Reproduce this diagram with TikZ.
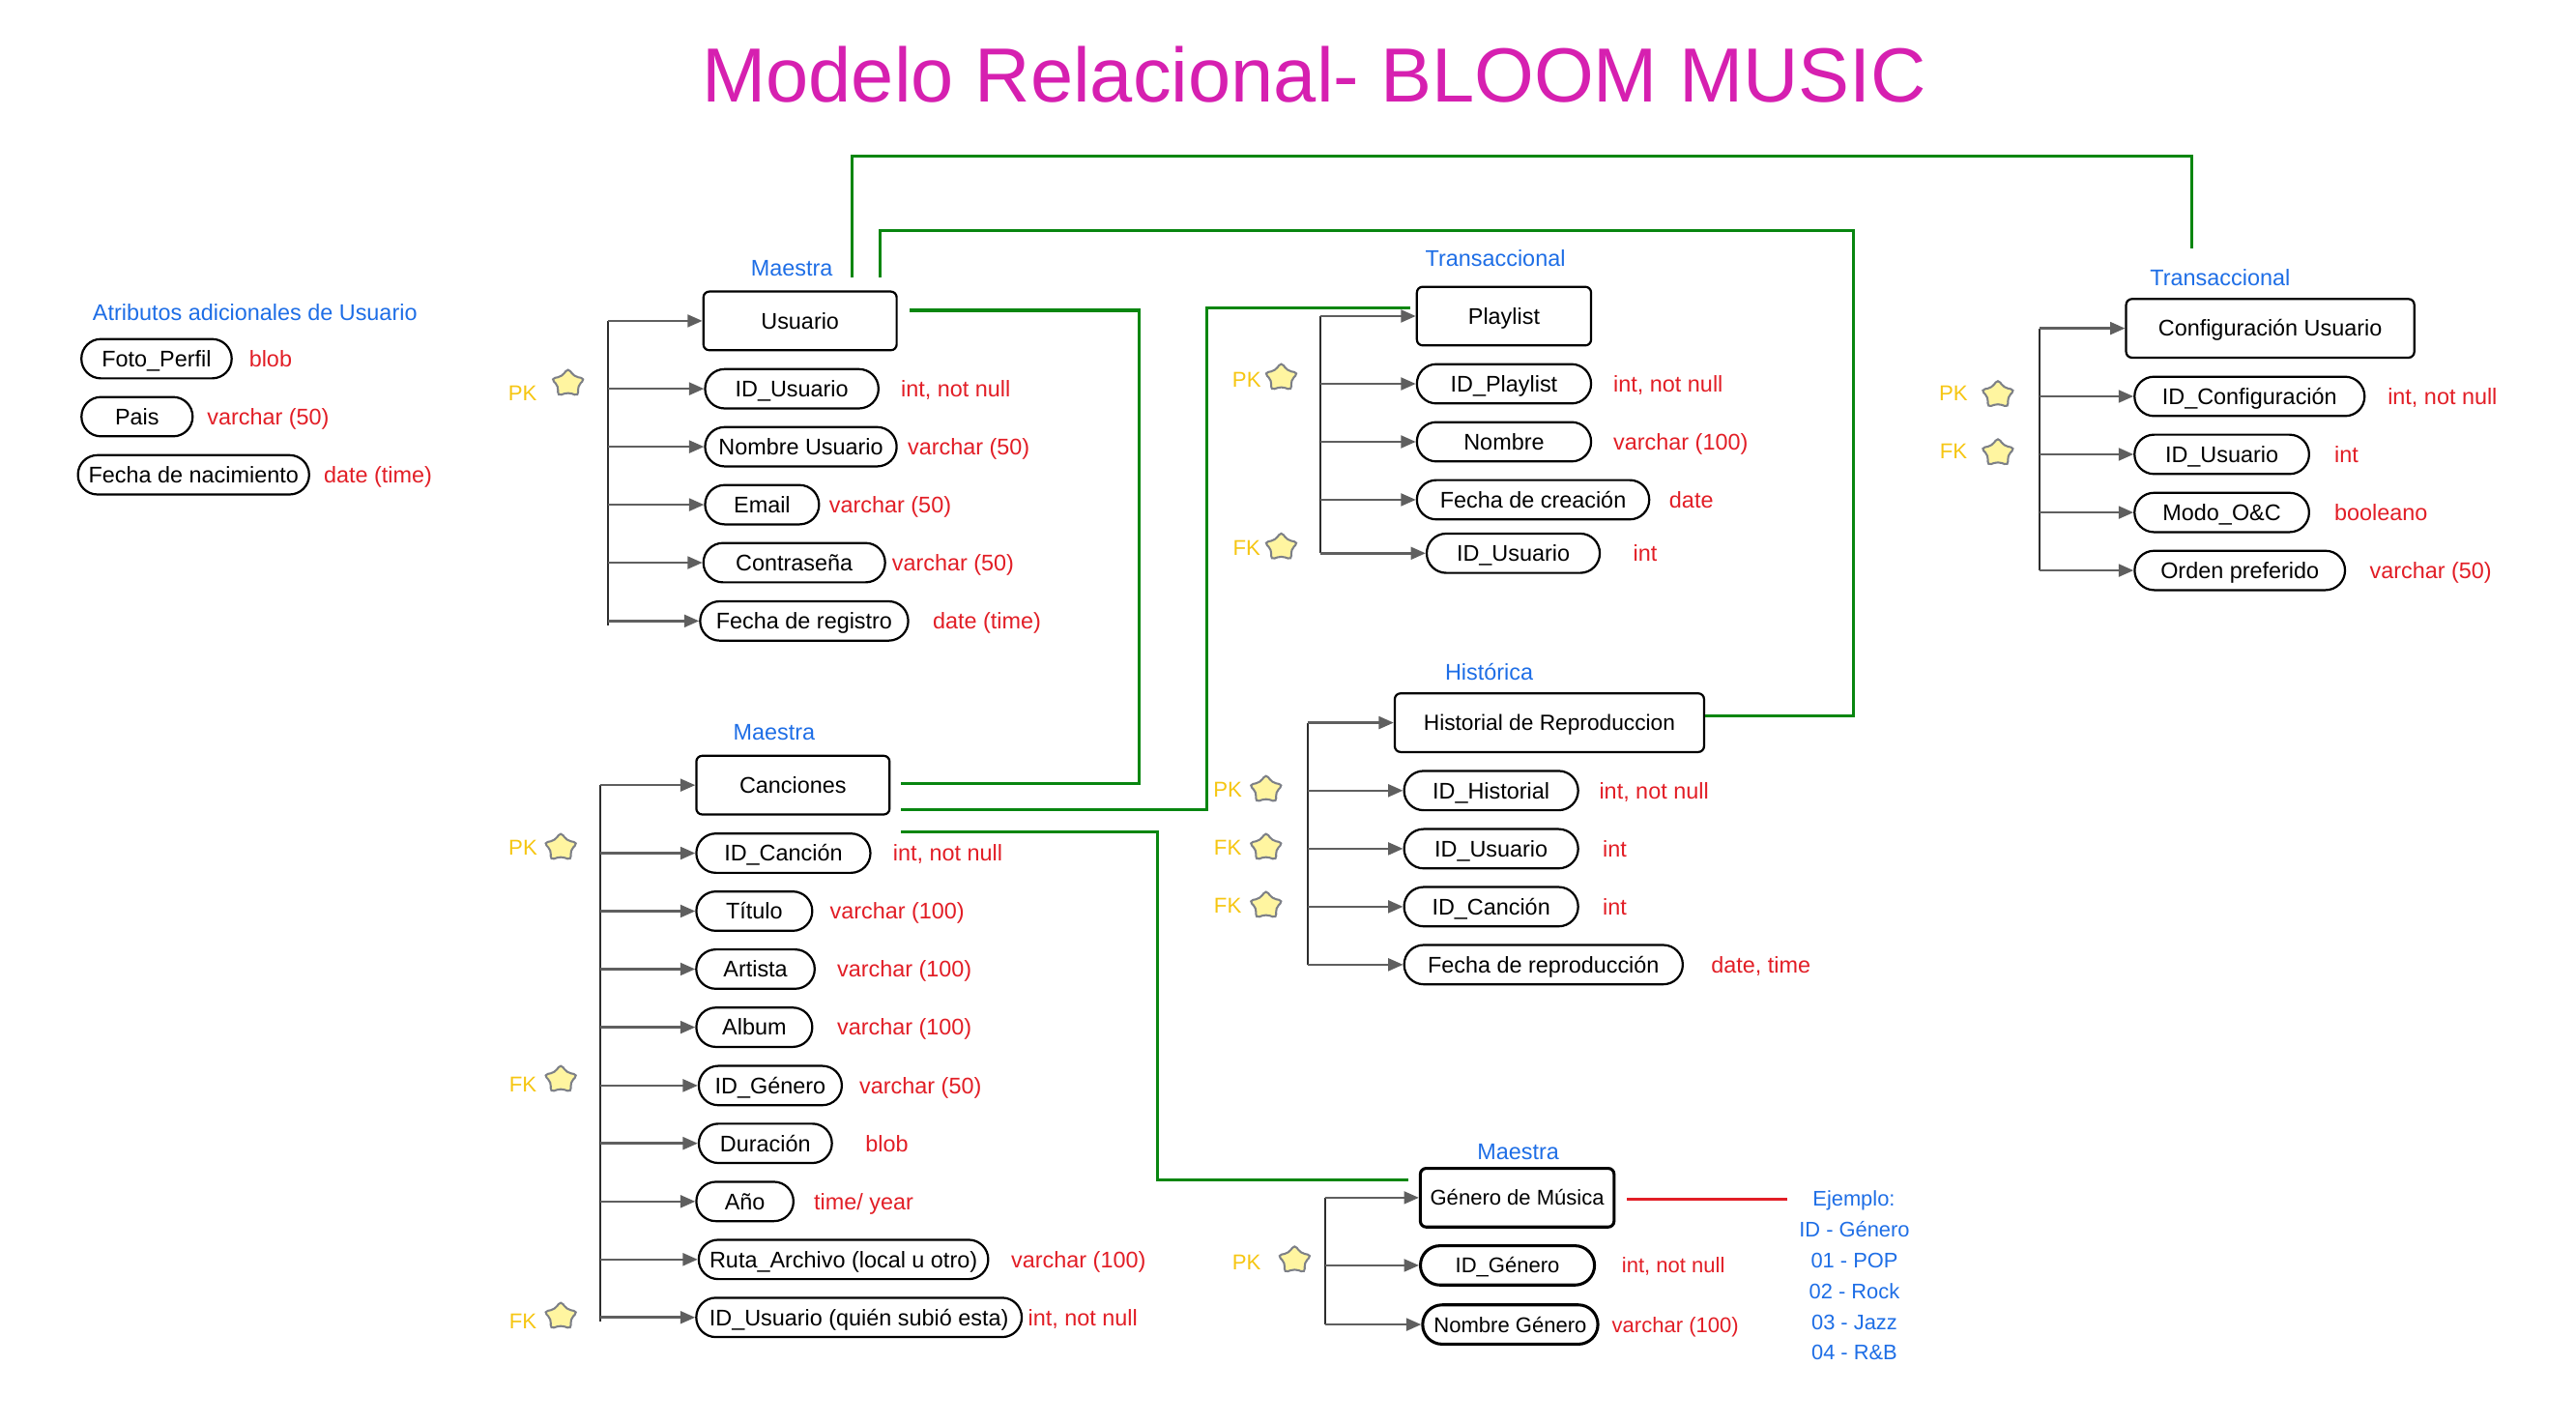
\documentclass[tikz,border=0pt]{standalone}
\usepackage{fontspec}
\setmainfont{Liberation Sans}
\usetikzlibrary{shapes.geometric,arrows.meta,calc}
\definecolor{ttlmag}{RGB}{214,32,176}
\definecolor{lblue}{RGB}{30,110,230}
\definecolor{tred}{RGB}{226,30,38}
\definecolor{kyel}{RGB}{246,198,18}
\definecolor{relgreen}{RGB}{8,134,16}
\definecolor{arrgray}{RGB}{95,95,95}
\definecolor{trunkgray}{RGB}{45,45,45}
\definecolor{starfill}{RGB}{255,245,160}
\definecolor{staredge}{RGB}{125,128,135}
\begin{document}
\begin{tikzpicture}[x=1pt,y=-1pt,
 every node/.style={font=\fontsize{13.7}{16}\selectfont, text height=11.3pt, text depth=1.5pt},
 ttl/.style={text=ttlmag, font=\fontsize{46.5}{56}\selectfont, text height=33.3pt, text depth=0pt, inner sep=0pt},
 tbl/.style={draw, line width=1.3pt, rounded corners=3.5pt, minimum height=35.5pt, inner sep=0pt},
 attr/.style={draw, line width=1.3pt, rounded corners=11.8pt, minimum height=23.8pt, inner sep=0pt},
 thick attr/.style={attr, line width=1.8pt},
 gfont/.style={font=\fontsize{12.9}{15}\selectfont, text height=10.7pt, text depth=1.4pt},
 typ/.style={text=tred, anchor=west, inner sep=0pt},
 cat/.style={text=lblue, inner sep=0pt},
 key/.style={text=kyel, inner sep=0pt, font=\fontsize{13}{15}\selectfont, text height=9.3pt, text depth=0pt},
 kstar/.style={star, star points=5, star point ratio=1.8, minimum size=19pt, inner sep=0pt, xscale=1.15, fill=starfill, draw=staredge, line width=1.2pt, rounded corners=2.6pt, text height=0pt, text depth=0pt},
 ejl/.style={text=lblue, inner sep=0pt, font=\fontsize{12.8}{15}\selectfont, text height=10.6pt, text depth=1.4pt},
 trunk/.style={draw=trunkgray, line width=1.2pt},
 arr/.style={draw=arrgray, line width=1.5pt, -{Triangle[length=9pt,width=7.5pt]}},
 rel/.style={draw=relgreen, line width=1.8pt},
 redrel/.style={draw=tred, line width=1.7pt},
]
\fill[white] (0,0) rectangle (1560,861.7);
\useasboundingbox (0,0) rectangle (1560,861.7);

% Title
\node[ttl] (title) at (796,45) {Modelo Relacional- BLOOM MUSIC};

% Additional attributes
\node[cat] (catExtra) at (154.4,189.3) {Atributos adicionales de Usuario};
\node[attr, minimum width=91pt] (foto) at (94.8,217.2) {Foto\_Perfil};
\node[typ] (fotoT) at (150.7,217.2) {blob};
\node[attr, minimum width=67.3pt] (pais) at (83,252.3) {Pais};
\node[typ] (paisT) at (125.3,252.3) {varchar (50)};
\node[attr, minimum width=140pt] (fnac) at (117.2,287.5) {Fecha de nacimiento};
\node[typ] (fnacT) at (195.9,287.5) {date (time)};

% Usuario
\node[cat] (catU) at (479.5,162.4) {Maestra};
\node[tbl, minimum width=117pt] (usuario) at (484.5,194.3) {Usuario};
\node[attr, minimum width=105pt] (uId) at (479.5,235.4) {ID\_Usuario};
\node[typ] (uIdT) at (545.4,235.4) {int, not null};
\node[attr, minimum width=116pt] (uNom) at (485,270.5) {Nombre Usuario};
\node[typ] (uNomT) at (549.5,270.5) {varchar (50)};
\node[attr, minimum width=69pt] (uMail) at (461.5,305.6) {Email};
\node[typ] (uMailT) at (502,305.6) {varchar (50)};
\node[attr, minimum width=110pt] (uPass) at (481,340.7) {Contraseña};
\node[typ] (uPassT) at (540,340.7) {varchar (50)};
\node[attr, minimum width=126pt] (uReg) at (487,376) {Fecha de registro};
\node[typ] (uRegT) at (564.7,376) {date (time)};
\node[key] (uPK) at (316.5,238) {PK};
\node[kstar] (uPKs) at (344,232.2) {};
\coordinate (uTop) at (368.4,194.3);
\coordinate (uBot) at (368.4,378.6);
\draw[trunk] (uTop) -- (uBot);
\foreach \n in {usuario,uId,uNom,uMail,uPass,uReg} \draw[arr] (uTop |- \n.west) -- (\n.west);

% Playlist
\node[cat] (catP) at (905.6,156.1) {Transaccional};
\node[tbl, minimum width=105.5pt] (playlist) at (910.8,191.4) {Playlist};
\node[attr, minimum width=105.5pt] (pId) at (910.8,232.4) {ID\_Playlist};
\node[typ] (pIdT) at (976.9,232.4) {int, not null};
\node[attr, minimum width=105.5pt] (pNom) at (910.8,267.5) {Nombre};
\node[typ] (pNomT) at (976.9,267.5) {varchar (100)};
\node[attr, minimum width=140.7pt] (pFec) at (928.4,302.6) {Fecha de creación};
\node[typ] (pFecT) at (1010.7,302.6) {date};
\node[attr, minimum width=104.8pt] (pUid) at (916.4,335) {ID\_Usuario};
\node[typ] (pUidT) at (988.9,335) {int};
\node[key] (pPK) at (755,229.9) {PK};
\node[kstar] (pPKs) at (775.9,228.7) {};
\node[key] (pFK) at (755,331.7) {FK};
\node[kstar] (pFKs) at (775.9,331.3) {};
\coordinate (pTop) at (799.8,191.4);
\coordinate (pBot) at (799.8,335);
\draw[trunk] (pTop) -- (pBot);
\foreach \n in {playlist,pId,pNom,pFec,pUid} \draw[arr] (pTop |- \n.west) -- (\n.west);

% Configuracion Usuario
\node[cat] (catC) at (1344.5,168.2) {Transaccional};
\node[tbl, minimum width=174.5pt] (config) at (1374.8,198.8) {Configuración Usuario};
\node[attr, minimum width=139.3pt] (cId) at (1362.3,240) {ID\_Configuración};
\node[typ] (cIdT) at (1445.8,240) {int, not null};
\node[attr, minimum width=105.7pt] (cUid) at (1345.5,275.1) {ID\_Usuario};
\node[typ] (cUidT) at (1413.5,275.1) {int};
\node[attr, minimum width=105.7pt] (cModo) at (1345.5,310.3) {Modo\_O\&C};
\node[typ] (cModoT) at (1413.5,310.3) {booleano};
\node[attr, minimum width=127.4pt] (cOrd) at (1356.4,345.4) {Orden preferido};
\node[typ] (cOrdT) at (1434.9,345.4) {varchar (50)};
\node[key] (cPK) at (1183,238) {PK};
\node[kstar] (cPKs) at (1209.9,239) {};
\node[key] (cFK) at (1183,273.2) {FK};
\node[kstar] (cFKs) at (1209.9,274.2) {};
\coordinate (cTop) at (1235,198.8);
\coordinate (cBot) at (1235,345.4);
\draw[trunk] (cTop) -- (cBot);
\foreach \n in {config,cId,cUid,cModo,cOrd} \draw[arr] (cTop |- \n.west) -- (\n.west);

% Historial de Reproduccion
\node[cat] (catH) at (901.8,406.8) {Histórica};
\node[tbl, minimum width=187.3pt, font=\fontsize{13.3}{16}\selectfont] (hist) at (938.3,437.6) {Historial de Reproduccion};
\node[attr, minimum width=105.4pt] (hId) at (903,478.7) {ID\_Historial};
\node[typ] (hIdT) at (968.3,478.7) {int, not null};
\node[attr, minimum width=105.4pt] (hUid) at (903,513.9) {ID\_Usuario};
\node[typ] (hUidT) at (970.4,513.9) {int};
\node[attr, minimum width=105.4pt] (hCid) at (903,549) {ID\_Canción};
\node[typ] (hCidT) at (970.4,549) {int};
\node[attr, minimum width=168.7pt] (hFec) at (934.7,584.1) {Fecha de reproducción};
\node[typ] (hFecT) at (1036.1,584.1) {date, time};
\node[key] (hPK) at (743.5,478.1) {PK};
\node[kstar] (hPKs) at (766.7,478.1) {};
\node[key] (hFK1) at (743.5,513.2) {FK};
\node[kstar] (hFK1s) at (766.7,513.2) {};
\node[key] (hFK2) at (743.5,548.3) {FK};
\node[kstar] (hFK2s) at (766.7,548.3) {};
\coordinate (hTop) at (792,437.6);
\coordinate (hBot) at (792,584.1);
\draw[trunk] (hTop) -- (hBot);
\foreach \n in {hist,hId,hUid,hCid,hFec} \draw[arr] (hTop |- \n.west) -- (\n.west);

% Canciones
\node[cat] (catS) at (468.8,443.3) {Maestra};
\node[tbl, minimum width=117pt] (canciones) at (480.2,475.4) {Canciones};
\node[attr, minimum width=105.4pt] (sId) at (474.4,516.6) {ID\_Canción};
\node[typ] (sIdT) at (540.6,516.6) {int, not null};
\node[attr, minimum width=70.2pt] (sTit) at (456.8,551.7) {Título};
\node[typ] (sTitT) at (502.4,551.7) {varchar (100)};
\node[attr, minimum width=71.7pt] (sArt) at (457.5,586.8) {Artista};
\node[typ] (sArtT) at (506.8,586.8) {varchar (100)};
\node[attr, minimum width=70.2pt] (sAlb) at (456.8,622) {Album};
\node[typ] (sAlbT) at (506.8,622) {varchar (100)};
\node[attr, minimum width=86.6pt] (sGen) at (466.5,657.3) {ID\_Género};
\node[typ] (sGenT) at (520.3,657.3) {varchar (50)};
\node[attr, minimum width=80.6pt] (sDur) at (463.5,692.3) {Duración};
\node[typ] (sDurT) at (523.9,692.3) {blob};
\node[attr, minimum width=58.8pt] (sAno) at (451.1,727.5) {Año};
\node[typ] (sAnoT) at (492.8,727.5) {time/ year};
\node[attr, minimum width=175.3pt] (sRuta) at (510.8,762.6) {Ruta\_Archivo (local u otro)};
\node[typ] (sRutaT) at (612.2,762.6) {varchar (100)};
\node[attr, minimum width=197.1pt] (sUid) at (520.2,797.7) {ID\_Usuario (quién subió esta)};
\node[typ] (sUidT) at (622.4,797.7) {int, not null};
\node[key] (sPK) at (316.7,513.2) {PK};
\node[kstar] (sPKs) at (339.6,513.2) {};
\node[key] (sFK1) at (316.7,656.6) {FK};
\node[kstar] (sFK1s) at (339.6,653.7) {};
\node[key] (sFK2) at (316.7,800) {FK};
\node[kstar] (sFK2s) at (339.6,797.1) {};
\coordinate (sTop) at (363.5,475.4);
\coordinate (sBot) at (363.5,800);
\draw[trunk] (sTop) -- (sBot);
\foreach \n in {canciones,sId,sTit,sArt,sAlb,sGen,sDur,sAno,sRuta,sUid} \draw[arr] (sTop |- \n.west) -- (\n.west);

% Genero de Musica
\node[cat] (catG) at (919.4,697) {Maestra};
\node[tbl, gfont, line width=1.8pt, minimum width=117.3pt] (genero) at (918.8,725.2) {Género de Música};
\node[thick attr, gfont, minimum width=105.4pt] (gId) at (912.9,766.2) {ID\_Género};
\node[typ, gfont] (gIdT) at (982,766.2) {int, not null};
\node[thick attr, gfont, minimum width=106.1pt] (gNom) at (914.6,802) {Nombre Género};
\node[typ, gfont] (gNomT) at (976,802) {varchar (100)};
\node[key] (gPK) at (754.9,764.5) {PK};
\node[kstar] (gPKs) at (784,763) {};
\coordinate (gTop) at (802.5,725.2);
\coordinate (gBot) at (802.5,802);
\draw[trunk, line width=1.6pt] (gTop) -- (gBot);
\foreach \n in {genero,gId,gNom} \draw[arr] (gTop |- \n.west) -- (\n.west);

% Ejemplo
\node[ejl] (ej1) at (1122.7,725.9) {Ejemplo:};
\node[ejl] (ej2) at (1123,744.5) {ID - Género};
\node[ejl] (ej3) at (1123,763.1) {01 - POP};
\node[ejl] (ej4) at (1123,781.7) {02 - Rock};
\node[ejl] (ej5) at (1123,800.3) {03 - Jazz};
\node[ejl] (ej6) at (1123,818.9) {04 - R\&B};
\draw[redrel] ([xshift=7pt,yshift=-0.7pt]genero.east) -- ([xshift=-15.3pt]ej1.west);

% Relations
\draw[rel] ([xshift=31.7pt,yshift=7.8pt]usuario.north) |- (1327.5,94.6) -- ([xshift=-47.3pt,yshift=30pt]config.north);
\draw[rel] ([xshift=48.6pt,yshift=7.8pt]usuario.north) |- (1122.5,139.5) |- ([yshift=4.4pt]hist.east);
\draw[rel] ([xshift=7.3pt,yshift=6.4pt]usuario.east) -| (689.8,474.2) -- ([xshift=6.1pt,yshift=1.2pt]canciones.east);
\draw[rel] ([xshift=-3.5pt,yshift=5.1pt]playlist.west) -| (730.8,490) -- ([xshift=6.1pt,yshift=-14.6pt]canciones.east);
\draw[rel] ([xshift=6.1pt,yshift=-28.2pt]canciones.east) -| (701,714.2) -- ([xshift=-6.6pt,yshift=11pt]genero.west);
\end{tikzpicture}
\end{document}
